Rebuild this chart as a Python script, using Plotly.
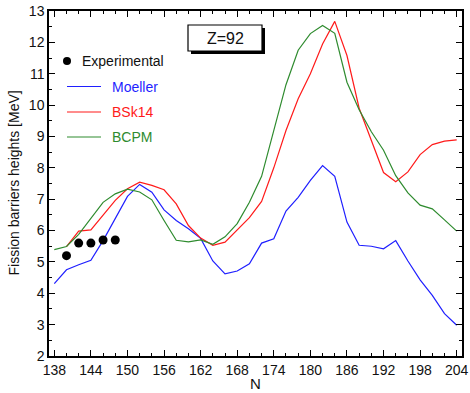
import plotly.graph_objects as go

# Neutron numbers
n_full = list(range(138, 206, 2))          # 138 ... 204
n_bsk = list(range(140, 206, 2))           # BSk14 starts at 140
n_exp = [140, 142, 144, 146, 148]

# Fission barrier heights [MeV]
moeller = [4.31, 4.75, 4.91, 5.05, 5.68, 6.40, 7.09, 7.47, 7.22, 6.66,
           6.32, 6.06, 5.75, 5.03, 4.62, 4.71, 4.94, 5.60, 5.74, 6.62,
           7.06, 7.60, 8.07, 7.73, 6.27, 5.53, 5.50, 5.42, 5.68, 5.03,
           4.43, 3.93, 3.35, 2.98]
bsk14 = [5.49, 5.98, 6.02, 6.48, 6.96, 7.33, 7.54, 7.44, 7.30, 6.85,
         6.16, 5.76, 5.53, 5.63, 6.02, 6.41, 6.93, 8.00, 9.19, 10.20,
         11.00, 11.95, 12.67, 11.58, 9.90, 8.90, 7.85, 7.56, 7.87, 8.42,
         8.74, 8.85, 8.89]
bcpm = [5.39, 5.49, 5.88, 6.41, 6.90, 7.17, 7.32, 7.23, 6.98, 6.32,
        5.69, 5.64, 5.70, 5.56, 5.80, 6.22, 6.90, 7.73, 9.15, 10.65,
        11.75, 12.28, 12.54, 12.29, 10.73, 9.85, 9.15, 8.56, 7.75, 7.20,
        6.81, 6.69, 6.34, 5.98]
experimental = [5.2, 5.6, 5.6, 5.7, 5.7]

x_ticks = [138, 144, 150, 156, 162, 168, 174, 180, 186, 192, 198, 204]
y_ticks = [2, 3, 4, 5, 6, 7, 8, 9, 10, 11, 12, 13]

BLUE, RED, GREEN = "#1f1fff", "#ff1a1a", "#2e8b2e"
FONT = "Liberation Sans, Arial, sans-serif"

W, H = 470, 393
L, R, T, B = 49, 8, 11, 37
PW, PH = W - L - R, H - T - B


def px(x):
    return (x - L) / PW


def py(y):
    return (H - B - y) / PH


fig = go.Figure()
fig.add_trace(go.Scatter(x=n_full, y=moeller, mode="lines",
                         line=dict(color=BLUE, width=1.2), name="Moeller"))
fig.add_trace(go.Scatter(x=n_bsk, y=bsk14, mode="lines",
                         line=dict(color=RED, width=1.2), name="BSk14"))
fig.add_trace(go.Scatter(x=n_full, y=bcpm, mode="lines",
                         line=dict(color=GREEN, width=1.2), name="BCPM"))
fig.add_trace(go.Scatter(x=n_exp, y=experimental, mode="markers",
                         marker=dict(color="black", size=9), name="Experimental"))

shapes = []
annotations = []

# Legend block
shapes.append(dict(type="circle", xref="paper", yref="paper",
                   xsizemode="pixel", ysizemode="pixel",
                   xanchor=px(67), yanchor=py(61),
                   x0=-4, x1=4, y0=-4, y1=4,
                   fillcolor="black", line=dict(width=0)))
annotations.append(dict(text="Experimental", xref="paper", yref="paper",
                        x=px(80), y=py(61), xanchor="left", yanchor="middle",
                        showarrow=False, font=dict(size=14, color="#111")))
for label, color, yy in [("Moeller", BLUE, 86.5), ("BSk14", RED, 112),
                         ("BCPM", GREEN, 137)]:
    shapes.append(dict(type="line", xref="paper", yref="paper",
                       x0=px(67), x1=px(101), y0=py(yy), y1=py(yy),
                       line=dict(color=color, width=1.2)))
    annotations.append(dict(text=label, xref="paper", yref="paper",
                            x=px(110), y=py(yy), xanchor="left", yanchor="middle",
                            showarrow=False, font=dict(size=14, color=color)))

# Z=92 label box with drop shadow
shapes.append(dict(type="rect", xref="paper", yref="paper",
                   x0=px(191), x1=px(265), y0=py(54), y1=py(28),
                   fillcolor="black", line=dict(width=0)))
shapes.append(dict(type="rect", xref="paper", yref="paper",
                   x0=px(188), x1=px(262), y0=py(51), y1=py(25),
                   fillcolor="white", line=dict(color="black", width=1.2)))
annotations.append(dict(text="Z=92", xref="paper", yref="paper",
                        x=px(225), y=py(38.5), xanchor="center", yanchor="middle",
                        showarrow=False, font=dict(size=16, color="#111")))

# Axis titles
annotations.append(dict(text="Fission barriers heights [MeV]", xref="paper", yref="paper",
                        x=px(13), y=0.5, xanchor="center", yanchor="middle",
                        textangle=-90, showarrow=False,
                        font=dict(size=14, color="#111")))
annotations.append(dict(text="N", xref="paper", yref="paper",
                        x=px(255), y=py(383.5), xanchor="center", yanchor="middle",
                        showarrow=False, font=dict(size=15, color="#111")))

axis_common = dict(
    showgrid=False, zeroline=False, showline=True, linecolor="black",
    linewidth=1.5, mirror="allticks", ticks="inside", ticklen=6,
    tickwidth=1.3, tickcolor="black",
    tickfont=dict(size=14, color="#111", family=FONT),
)

fig.update_layout(
    width=W, height=H,
    margin=dict(l=L, r=R, t=T, b=B, autoexpand=False),
    paper_bgcolor="white", plot_bgcolor="white",
    font=dict(family=FONT),
    showlegend=False,
    shapes=shapes, annotations=annotations,
    xaxis=dict(range=[137.13, 204.87], tickmode="array", tickvals=x_ticks,
               minor=dict(ticks="inside", ticklen=3, tickwidth=1.2,
                          tickcolor="black", dtick=2, tick0=138),
               **axis_common),
    yaxis=dict(range=[2, 13], tickmode="array", tickvals=y_ticks,
               minor=dict(ticks="inside", ticklen=3, tickwidth=1.2,
                          tickcolor="black", dtick=0.5, tick0=2),
               **axis_common),
)

fig.write_html("out.html")
